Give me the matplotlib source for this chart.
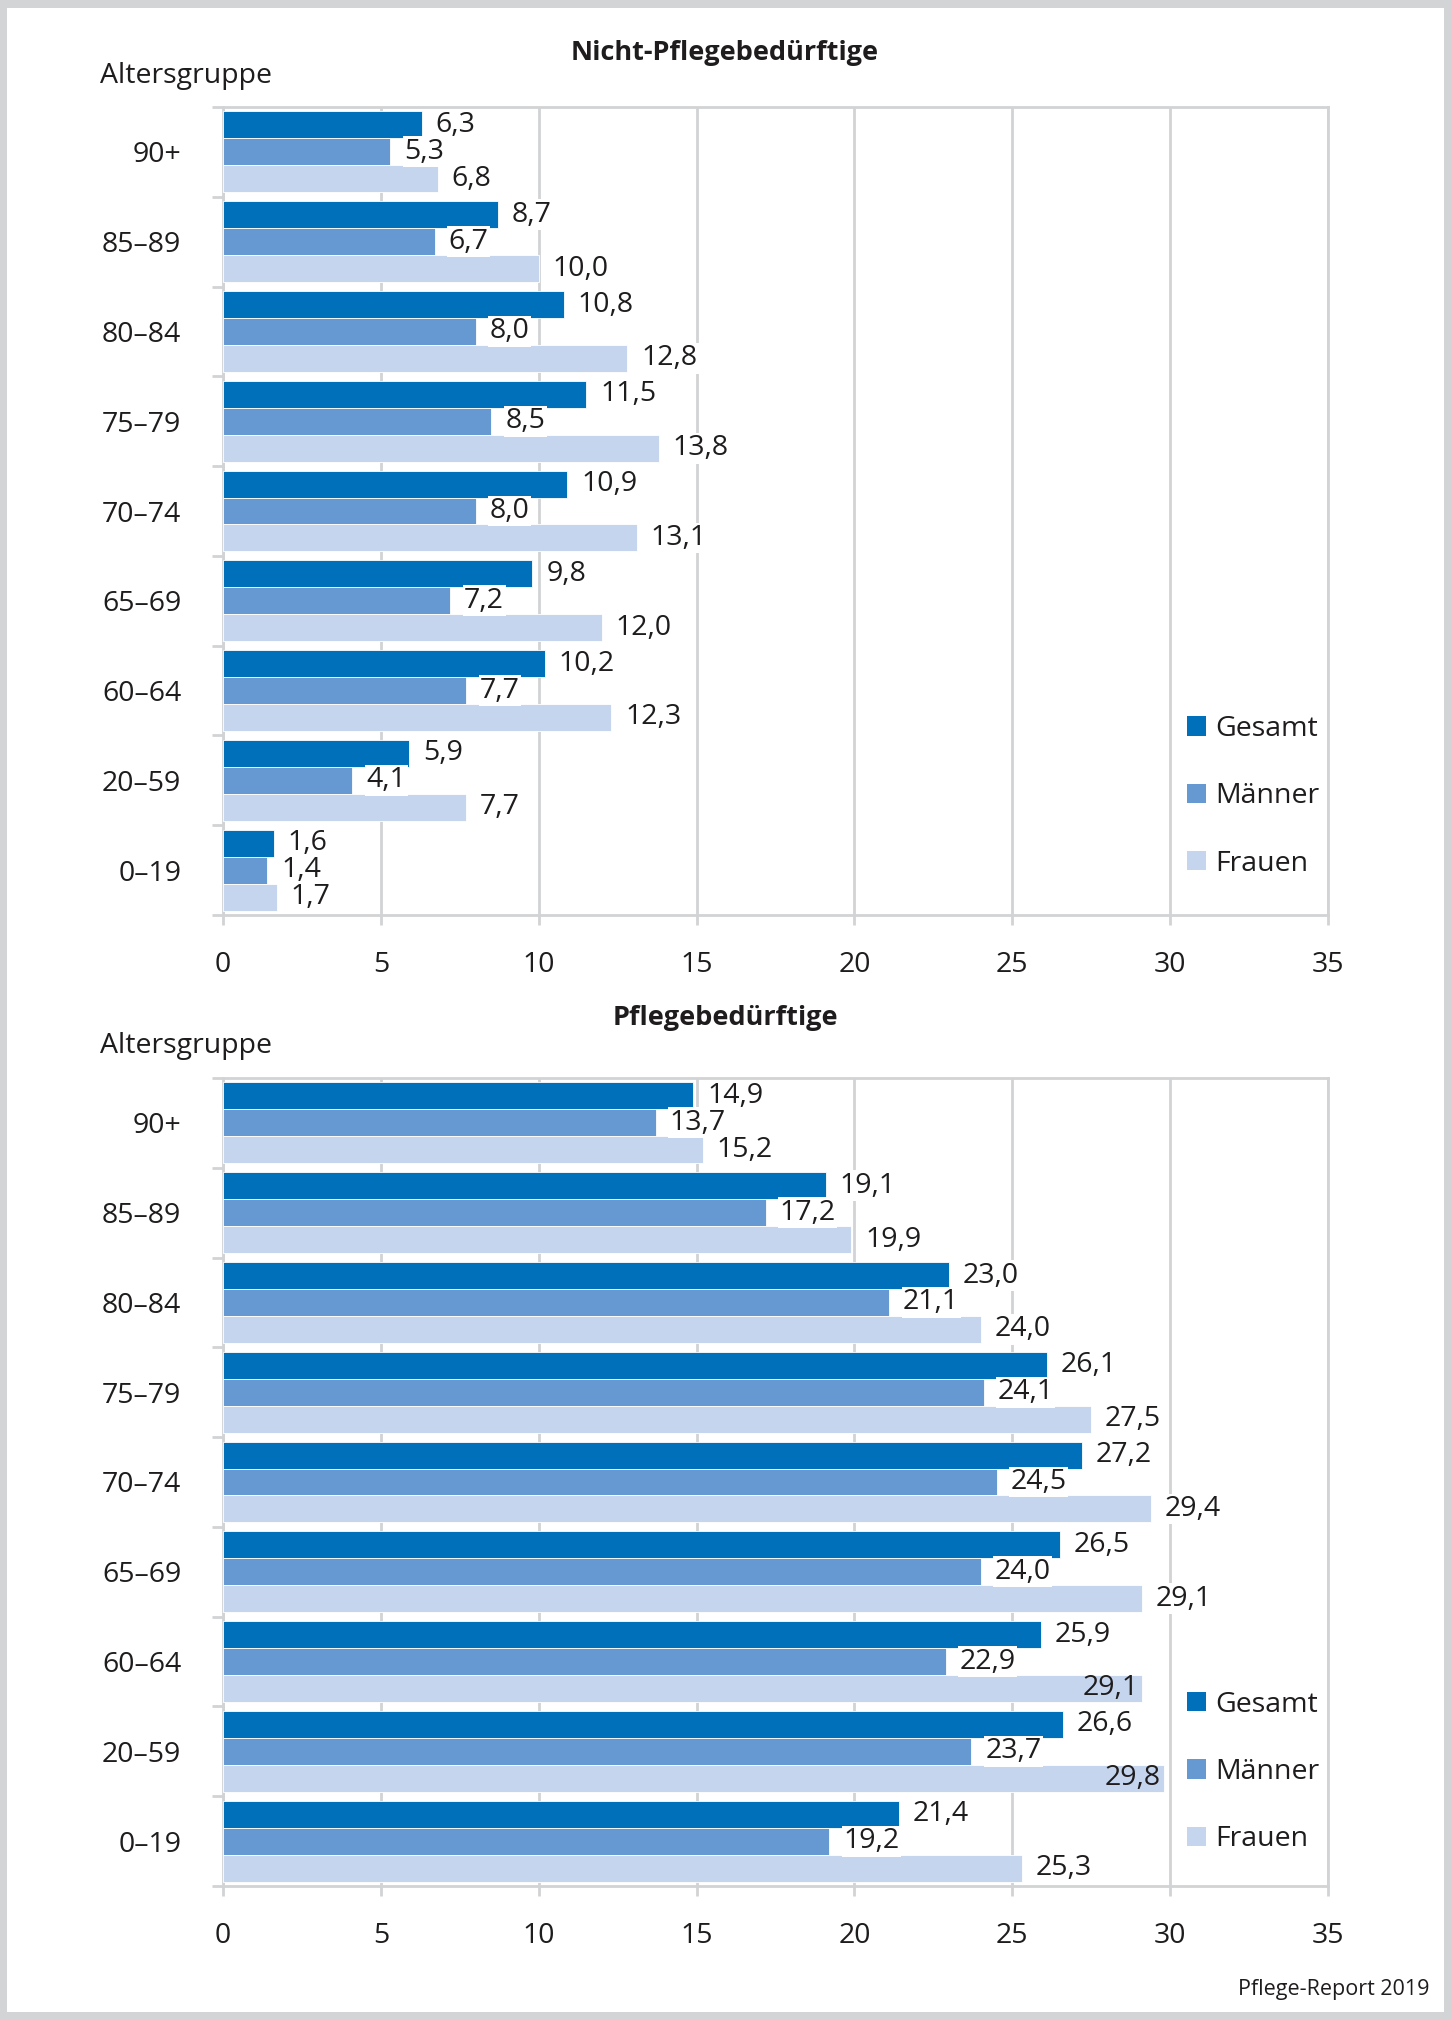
import matplotlib
matplotlib.use("Agg")
import matplotlib.pyplot as plt
from matplotlib.patches import Rectangle, Patch
import numpy as np

plt.rcParams["font.family"] = ["Open Sans", "DejaVu Sans"]

# data (top to bottom)
categories = ["90+", "85–89", "80–84", "75–79", "70–74", "65–69", "60–64", "20–59", "0–19"]
series = ["Gesamt", "Männer", "Frauen"]

nicht_gesamt = [6.3, 8.7, 10.8, 11.5, 10.9, 9.8, 10.2, 5.9, 1.6]
nicht_maenner = [5.3, 6.7, 8.0, 8.5, 8.0, 7.2, 7.7, 4.1, 1.4]
nicht_frauen = [6.8, 10.0, 12.8, 13.8, 13.1, 12.0, 12.3, 7.7, 1.7]

pflege_gesamt = [14.9, 19.1, 23.0, 26.1, 27.2, 26.5, 25.9, 26.6, 21.4]
pflege_maenner = [13.7, 17.2, 21.1, 24.1, 24.5, 24.0, 22.9, 23.7, 19.2]
pflege_frauen = [15.2, 19.9, 24.0, 27.5, 29.4, 29.1, 29.1, 29.8, 25.3]

x_ticks = [0, 5, 10, 15, 20, 25, 30, 35]

colors = ["#0070ba", "#6699d1", "#c5d5ee"]
grid_col = "#d2d3d5"
text_col = "#1f1c1d"
FS = 20.5

W, H = 1451, 2020
fig = plt.figure(figsize=(W / 100, H / 100), dpi=100)
fig.patch.set_facecolor("#d3d4d6")
fig.add_artist(Rectangle((7 / W, 8 / H), (1444 - 7) / W, (2012 - 8) / H,
                         transform=fig.transFigure, facecolor="white",
                         edgecolor="none", zorder=-10))


def fmt(v):
    return f"{v:.1f}".replace(".", ",")


def draw_panel(rect, title, title_y, label_y, data, legend_y):
    ax = fig.add_axes(rect)
    y = np.arange(len(categories))
    h = 0.3
    for k, (vals, col) in enumerate(zip(data, colors)):
        pos = y + (k - 1) * h
        ax.barh(pos, vals, height=h, color=col, edgecolor="white",
                linewidth=0.6, zorder=3)
        for i, (p, v) in enumerate(zip(pos, vals)):
            # labels that would run into the legend sit inside the bar
            inside = v > 28.5 and i >= 6
            if inside:
                ax.annotate(fmt(v), (v, p), xytext=(-2, 0), textcoords="offset points",
                            ha="right", va="center", fontsize=FS, color=text_col, zorder=5)
            else:
                ax.annotate(fmt(v), (v, p), xytext=(10, 0), textcoords="offset points",
                            ha="left", va="center", fontsize=FS, color=text_col, zorder=5,
                            bbox=dict(boxstyle="square,pad=0.05", fc="white", ec="none"))

    ax.set_xlim(0, 35)
    ax.set_ylim(len(categories) - 0.5, -0.5)
    ax.set_xticks(x_ticks)
    ax.set_xticklabels([str(t) for t in x_ticks])
    ax.grid(axis="x", color=grid_col, linewidth=2, zorder=0)
    ax.set_axisbelow(True)
    for s in ax.spines.values():
        s.set_color(grid_col)
        s.set_linewidth(2)
    ax.set_yticks(np.arange(len(categories) + 1) - 0.5)
    ax.set_yticklabels([])
    ax.set_yticks(y, minor=True)
    ax.set_yticklabels(categories, minor=True)
    ax.tick_params(axis="y", which="major", length=8, width=2, color=grid_col)
    ax.tick_params(axis="y", which="minor", length=0, pad=30, labelsize=FS,
                   labelcolor=text_col)
    ax.tick_params(axis="x", length=7, width=2, color=grid_col, pad=19,
                   labelsize=FS, labelcolor=text_col)

    handles = [Patch(facecolor=c, edgecolor="none") for c in colors]
    ax.legend(handles, series, loc="center left", bbox_to_anchor=(0.872, legend_y),
              frameon=False, fontsize=FS, labelspacing=1.38, handlelength=0.67,
              handleheight=0.67, handletextpad=0.35, borderpad=0, borderaxespad=0,
              labelcolor=text_col)

    fig.text(725 / W, 1 - title_y / H, title, ha="center", va="center",
             fontsize=19.5, fontweight="bold", color=text_col)
    fig.text(100 / W, 1 - label_y / H, "Altersgruppe", ha="left", va="center",
             fontsize=FS, color=text_col)
    return ax


left = 223 / W
width = (1328 - 223) / W
draw_panel([left, 1 - 915 / H, width, (915 - 107) / H],
           "Nicht-Pflegebedürftige", 53, 76,
           [nicht_gesamt, nicht_maenner, nicht_frauen], 0.147)
draw_panel([left, 1 - 1886 / H, width, (1886 - 1078) / H],
           "Pflegebedürftige", 1018, 1046,
           [pflege_gesamt, pflege_maenner, pflege_frauen], 0.141)

fig.text(1430 / W, 1 - 1989 / H, "Pflege-Report 2019", ha="right", va="center",
         fontsize=15.5, color=text_col)

fig.savefig("out.png", dpi=100, facecolor=fig.get_facecolor())
